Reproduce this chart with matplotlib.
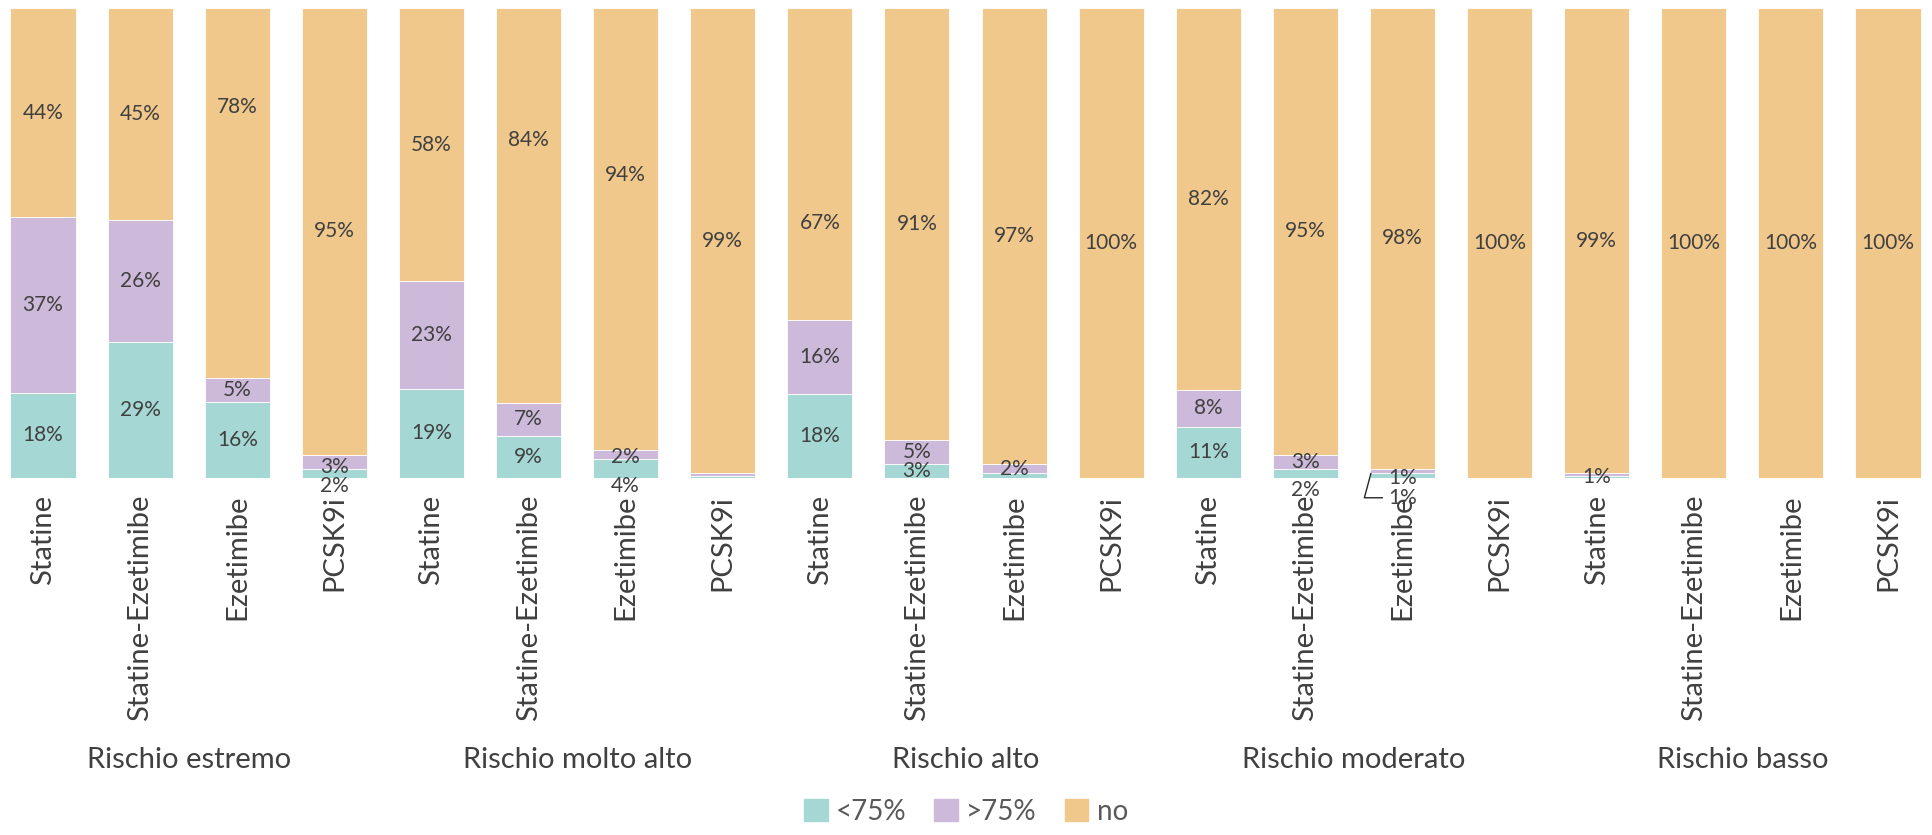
import numpy as np
import matplotlib
matplotlib.use("Agg")
import matplotlib.pyplot as plt
import matplotlib.transforms as mtransforms
from matplotlib.patches import Patch

plt.rcParams['font.family'] = ['Lato', 'DejaVu Sans']

# data
groups = ["Rischio estremo", "Rischio molto alto", "Rischio alto", "Rischio moderato", "Rischio basso"]
therapies = ["Statine", "Statine-Ezetimibe", "Ezetimibe", "PCSK9i"]
series = ["<75%", ">75%", "no"]

lt75 = [18, 29, 16, 2,   19, 9, 4, 0.5,   18, 3, 1, 0,   11, 2, 1, 0,   0.5, 0, 0, 0]
gt75 = [37, 26, 5, 3,    23, 7, 2, 0.5,   16, 5, 2, 0,   8, 3, 1, 0,    0.5, 0, 0, 0]
no   = [44, 45, 78, 95,  58, 84, 94, 99,  67, 91, 97, 100, 82, 95, 98, 100, 99, 100, 100, 100]

# label text for each segment (None = no label)
lab_lt = ["18%", "29%", "16%", "2%", "19%", "9%", "4%", None, "18%", "3%", None, None,
          "11%", "2%", "1%", None, "1%", None, None, None]
lab_gt = ["37%", "26%", "5%", "3%", "23%", "7%", "2%", None, "16%", "5%", "2%", None,
          "8%", "3%", "1%", None, None, None, None, None]

# manual label heights (in %) where the chart moved them
pos_lt = {3: -1.8, 6: -1.8, 13: -2.6, 14: -4.2, 15: 0.0}
pos_gt = {3: 2.4, 6: 4.5, 14: 0.0}
pos_no = {2: 79.0, 5: 71.9, 6: 64.6, 8: 54.3}

colors = ["#a5d8d5", "#cdb9da", "#f0c88b"]
txt_col = "#404040"

vals = np.array([lt75, gt75, no], dtype=float)
vals = vals / vals.sum(axis=0) * 100  # 100% stacked
x = np.arange(vals.shape[1])
w = 0.67

fig = plt.figure(figsize=(19.32, 8.35), dpi=100)
ax = fig.add_axes([0, 0.4275, 1, 0.5626])

bottom = np.zeros(len(x))
for i in range(3):
    ax.bar(x, vals[i], w, bottom=bottom, color=colors[i], edgecolor="white", linewidth=0.6)
    bottom += vals[i]

fs = 15
for j in range(len(x)):
    b0, b1 = vals[0, j], vals[1, j]
    if lab_lt[j] and j != 14:
        y = pos_lt.get(j, b0 / 2)
        ax.text(x[j], y, lab_lt[j], ha="center", va="center", fontsize=fs, color=txt_col)
    if lab_gt[j]:
        y = pos_gt.get(j, b0 + b1 / 2)
        ax.text(x[j], y, lab_gt[j], ha="center", va="center", fontsize=fs, color=txt_col)
    y = pos_no.get(j, b0 + b1 + vals[2, j] / 2)
    ax.text(x[j], y, f"{no[j]:g}%", ha="center", va="center", fontsize=fs, color=txt_col)

# leader line label on Ezetimibe / moderato
ax.annotate(lab_lt[14], xy=(14 - w / 2 + 0.01, 1.0), xytext=(14, pos_lt[14]),
            ha="center", va="center", fontsize=fs, color=txt_col,
            arrowprops=dict(arrowstyle="-", color="#262626", lw=1,
                            connectionstyle="angle,angleA=0,angleB=75,rad=0",
                            shrinkA=2, shrinkB=0))

ax.set_xlim(-0.443, 19.453)
ax.set_ylim(0, 100)
ax.set_xticks(x)
ax.set_xticklabels(therapies * len(groups), rotation=90, fontsize=21, color=txt_col)
ax.tick_params(axis="x", length=0, pad=12)
ax.set_yticks([])
for s in ax.spines.values():
    s.set_visible(False)

trans = mtransforms.blended_transform_factory(ax.transData, fig.transFigure)
for g, name in enumerate(groups):
    ax.text(g * 4 + 1.5, 1 - 760 / 835, name, transform=trans, ha="center", va="center",
            fontsize=21, color=txt_col)

handles = [Patch(color=c) for c in colors]
fig.legend(handles, series, loc="center", bbox_to_anchor=(0.5, 1 - 812 / 835), ncol=3,
           frameon=False, fontsize=20, labelcolor="#595959", handlelength=0.85,
           handleheight=0.85, handletextpad=0.3, columnspacing=1.0)

fig.savefig("out.png", dpi=100)
